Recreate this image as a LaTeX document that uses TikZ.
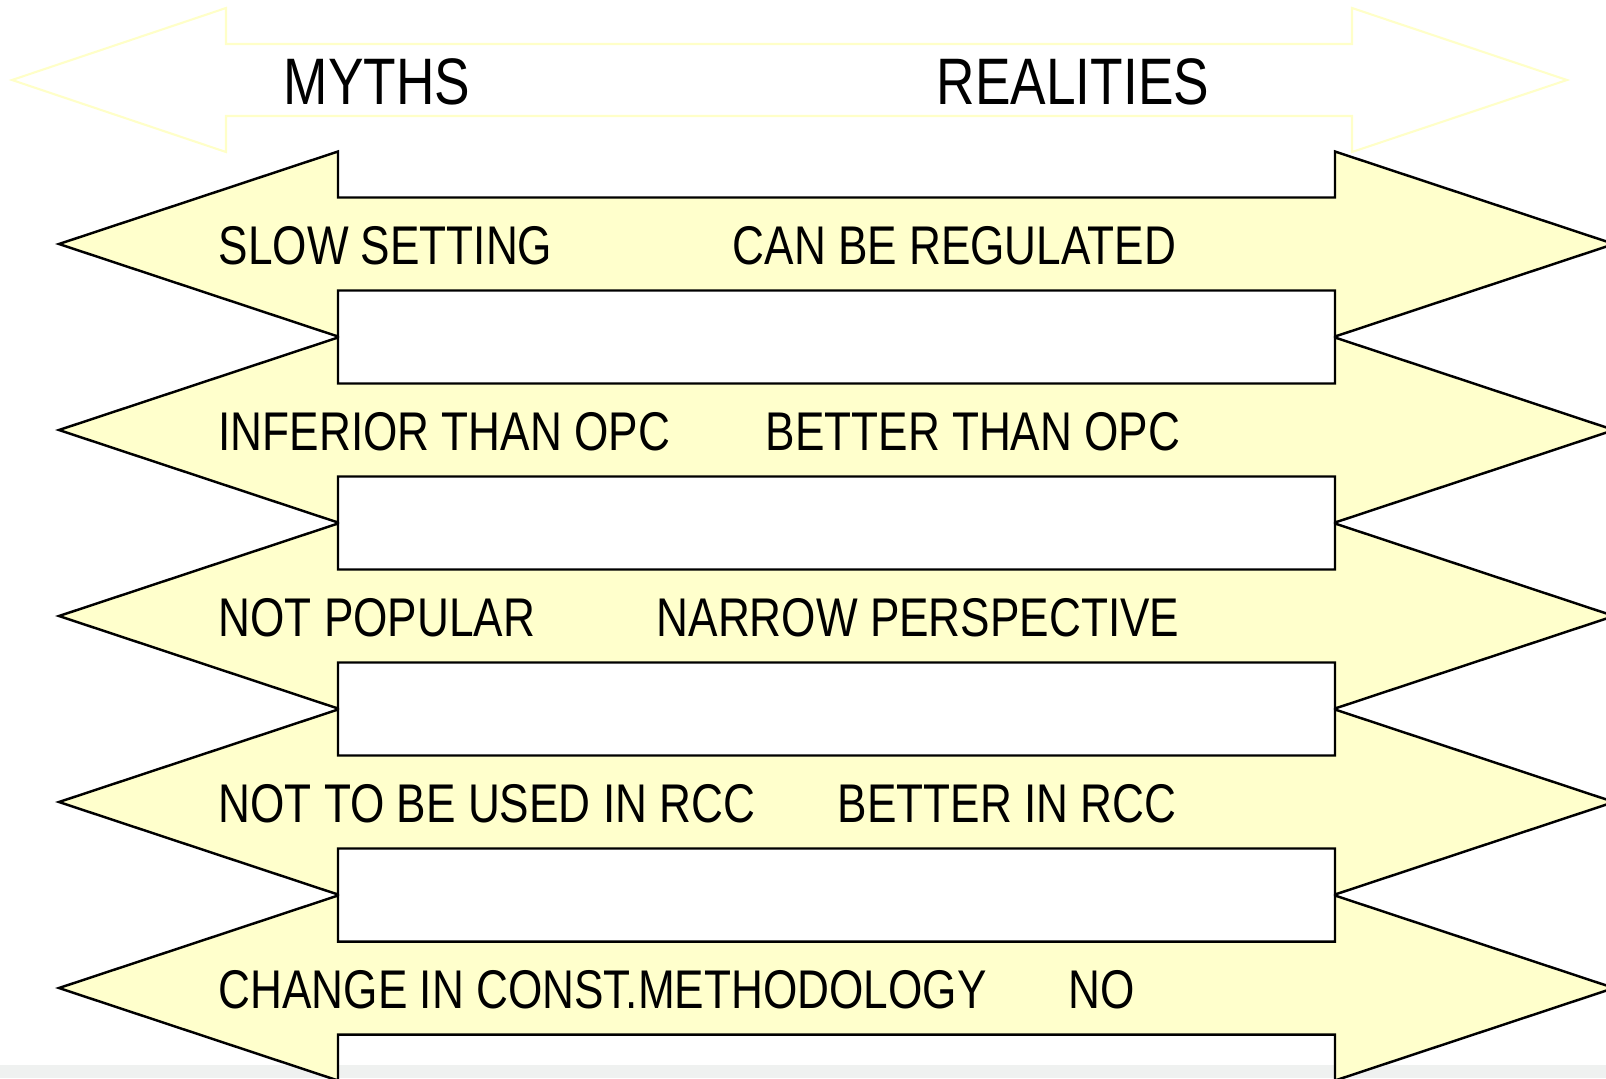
\documentclass[tikz,border=0pt]{standalone}
\usepackage{fontspec}
\setmainfont[FakeStretch=0.81]{Liberation Sans}
\definecolor{barfill}{RGB}{255,255,204}
\definecolor{headline}{RGB}{255,255,200}
\definecolor{stripgray}{RGB}{239,241,240}
\tikzset{
  bar/.style = {draw=black, line width=0.7pt, fill=barfill},% yellow double arrow, black outline
  head/.style = {draw=headline, line width=0.6pt},
  lbl/.style = {anchor=base west, inner sep=0pt, font=\fontsize{15.5}{18}\selectfont},
  ttl/.style = {lbl, font=\fontsize{18.7}{22}\selectfont}
}
\begin{document}
\begin{tikzpicture}[x=0.01cm, y=-0.01cm]
\useasboundingbox (0,0) rectangle (1606,1078);
\fill[stripgray] (0,1065) rectangle (1606,1078);
% header arrow
\draw[head] (12,80) -- (226,8) -- (226,44) -- (1352,44) -- (1352,8) -- (1567,80)
  -- (1352,152) -- (1352,116) -- (226,116) -- (226,152) -- cycle;
\node[ttl] (myths) at (283,104) {MYTHS};
\node[ttl] (realities) at (936,104) {REALITIES};
% rows
\foreach \y/\m/\r/\rx [count=\i] in {
    244/SLOW SETTING/CAN BE REGULATED/732,
    430/INFERIOR THAN OPC/BETTER THAN OPC/765,
    616/NOT POPULAR/NARROW PERSPECTIVE/656,
    802/NOT TO BE USED IN RCC/BETTER IN RCC/837,
    988/CHANGE IN CONST.METHODOLOGY/NO/1068}{
  \draw[bar] (59,\y) -- (338,{\y-92.5}) -- (338,{\y-46.5}) -- (1335,{\y-46.5})
    -- (1335,{\y-92.5}) -- (1614,\y) -- (1335,{\y+92.5}) -- (1335,{\y+46.5})
    -- (338,{\y+46.5}) -- (338,{\y+92.5}) -- cycle;
  \node[lbl] (myth\i) at (218,{\y+20}) {\m};
  \node[lbl] (real\i) at (\rx,{\y+20}) {\r};
}
\end{tikzpicture}
\end{document}
